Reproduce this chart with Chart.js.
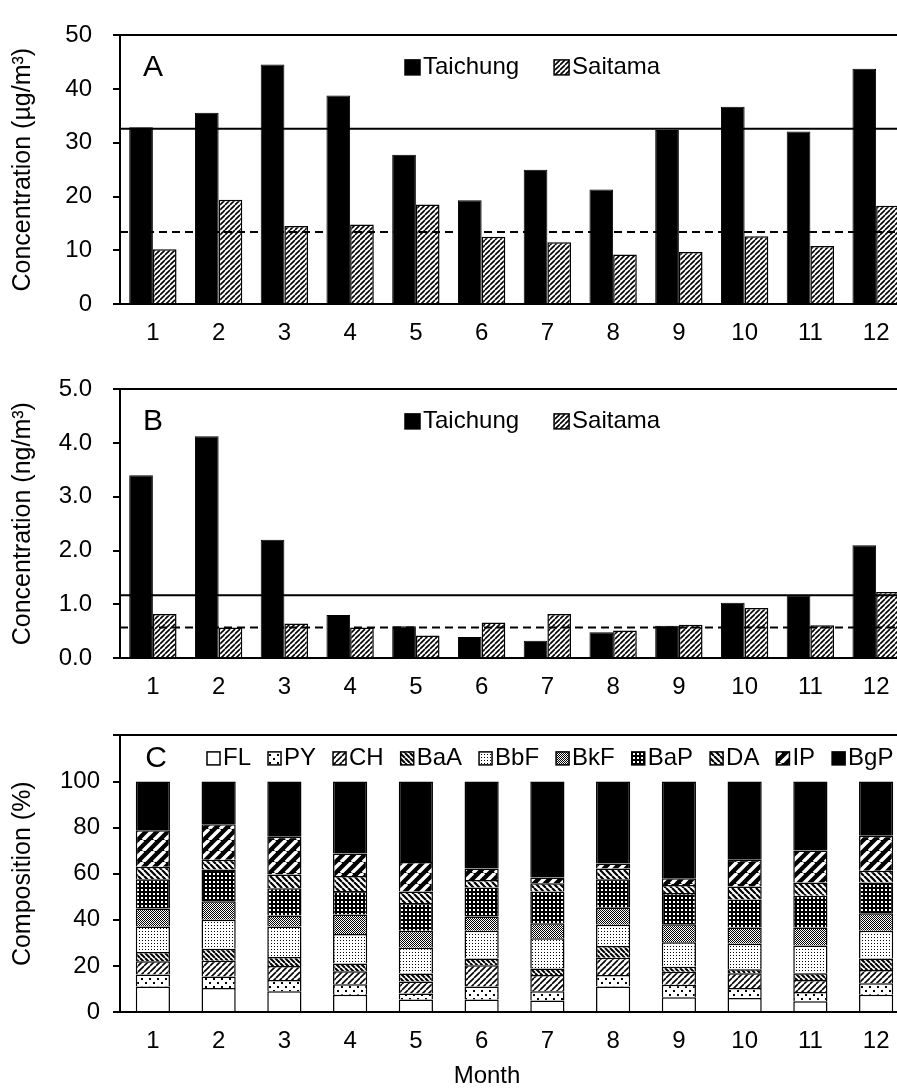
<!DOCTYPE html>
<html>
<head>
<meta charset="utf-8">
<script src="https://cdn.jsdelivr.net/npm/chart.js@4/dist/chart.umd.min.js"></script>
<style>
  html, body { margin: 0; padding: 0; background: #fff; overflow: hidden; width: 897px; height: 1092px; }
  canvas { position: absolute; left: 0; }
</style>
</head>
<body>
<canvas id="pm" width="909" height="350" style="top:0"></canvas>
<canvas id="pah" width="909" height="350" style="top:354px"></canvas>
<canvas id="comp" width="909" height="384" style="top:708px"></canvas>
<script>
// months on the x axis
const months = ["1", "2", "3", "4", "5", "6", "7", "8", "9", "10", "11", "12"];

// panel A, PM2.5 (µg/m3)
const pmTaichung = [32.9, 35.6, 44.6, 38.8, 27.8, 19.3, 25.0, 21.3, 32.4, 36.7, 32.1, 43.8];
const pmSaitama = [10.2, 19.4, 14.5, 14.8, 18.5, 12.5, 11.5, 9.2, 9.7, 12.6, 10.8, 18.3];
const pmLevels = [32.6, 13.4]; // solid = Taichung, dashed = Saitama

// panel B, total PAHs (ng/m3)
const pahTaichung = [3.40, 4.13, 2.20, 0.80, 0.59, 0.39, 0.32, 0.48, 0.60, 1.03, 1.17, 2.10];
const pahSaitama = [0.82, 0.57, 0.64, 0.57, 0.42, 0.66, 0.82, 0.51, 0.62, 0.93, 0.61, 1.23];
const pahLevels = [1.17, 0.57];

// panel C, composition (%)
const compounds = ["FL", "PY", "CH", "BaA", "BbF", "BkF", "BaP", "DA", "IP", "BgP"];
const FL  = [11.1, 10.4, 9.0, 7.5, 5.4, 5.4, 5.0, 11.1, 6.4, 6.1, 4.7, 7.5];
const PY  = [5.2, 5.0, 4.9, 4.5, 2.6, 5.7, 4.0, 5.0, 5.4, 4.3, 4.0, 5.0];
const CH  = [5.7, 6.8, 6.1, 5.7, 5.2, 9.2, 7.1, 7.4, 5.7, 6.4, 5.2, 5.7];
const BaA = [4.0, 5.2, 3.9, 3.3, 3.5, 2.9, 2.8, 5.1, 2.1, 1.7, 2.9, 5.0];
const BbF = [11.1, 12.6, 13.2, 12.8, 11.2, 12.1, 13.1, 9.2, 10.7, 11.1, 12.1, 12.1];
const BkF = [7.8, 8.1, 4.8, 8.5, 7.4, 6.1, 6.5, 7.4, 7.8, 7.1, 7.8, 7.5];
const BaP = [12.7, 13.7, 11.8, 10.2, 12.0, 12.6, 13.8, 12.4, 13.5, 12.1, 13.7, 13.4];
const DA  = [5.4, 4.3, 6.0, 6.5, 5.0, 3.3, 3.6, 4.7, 3.5, 5.6, 5.8, 5.1];
const IP  = [15.9, 15.3, 16.3, 9.8, 12.8, 5.0, 2.5, 2.1, 2.9, 11.7, 13.9, 15.2];
const BgP = [21.1, 18.6, 24.0, 31.2, 34.9, 37.7, 41.6, 35.6, 42.0, 33.9, 29.9, 23.5];
const compValues = [FL, PY, CH, BaA, BbF, BkF, BaP, DA, IP, BgP];

const FONT = '"Liberation Sans", Arial, sans-serif';
Chart.defaults.font.family = FONT;
Chart.defaults.font.size = 24;
Chart.defaults.color = "#000";

// fill patterns
function makePattern(size, bg, draw) {
  const c = document.createElement("canvas");
  c.width = c.height = size;
  const g = c.getContext("2d");
  g.fillStyle = bg;
  g.fillRect(0, 0, size, size);
  draw(g, size);
  return g.createPattern(c, "repeat");
}
function diag(dir, lw, color) {
  return (g, s) => {
    g.strokeStyle = color;
    g.lineWidth = lw;
    g.beginPath();
    for (let k = -s; k <= s; k += s) {
      if (dir > 0) { g.moveTo(k, s); g.lineTo(k + s, 0); }
      else { g.moveTo(k, 0); g.lineTo(k + s, s); }
    }
    g.stroke();
  };
}
function dots(list, color, w) {
  return (g) => {
    g.fillStyle = color;
    list.forEach(([x, y]) => g.fillRect(x, y, w, w));
  };
}

const hatch = makePattern(5, "#fff", diag(1, 1.6, "#000"));
const compFills = [
  "#fff",
  makePattern(8, "#fff", dots([[1, 2], [5, 6]], "#000", 2)),
  makePattern(6, "#fff", diag(1, 1.6, "#000")),
  makePattern(5, "#fff", diag(-1, 2, "#000")),
  makePattern(3, "#fff", dots([[1, 1]], "#000", 1)),
  makePattern(2, "#fff", dots([[0, 0], [1, 1]], "#000", 1)),
  makePattern(4, "#000", dots([[1, 1]], "#fff", 2)),
  makePattern(6, "#fff", diag(-1, 2.2, "#000")),
  makePattern(11, "#000", diag(1, 3.5, "#fff")),
  "#000"
];

// letter, legend, level lines and x title drawn inside the plot
const panelDecor = {
  id: "panelDecor",
  afterDatasetsDraw(chart, args, o) {
    const { ctx, chartArea: a } = chart;
    const y = chart.scales.y;
    ctx.save();
    (o.lines || []).forEach(l => {
      const py = y.getPixelForValue(l.value);
      ctx.beginPath();
      ctx.setLineDash(l.dash);
      ctx.lineWidth = 2;
      ctx.strokeStyle = "#000";
      ctx.moveTo(a.left, py);
      ctx.lineTo(a.right, py);
      ctx.stroke();
    });
    ctx.setLineDash([]);
    ctx.fillStyle = "#000";
    ctx.textBaseline = "middle";
    ctx.textAlign = "center";
    ctx.font = "30px " + FONT;
    ctx.fillText(o.letter, a.left + o.letterDx, a.top + o.dy);

    ctx.font = "24px " + FONT;
    ctx.textAlign = "left";
    let x = a.left + o.legendDx;
    const b = o.box;
    chart.data.datasets.forEach(ds => {
      const top = a.top + o.dy - b / 2;
      ctx.fillStyle = ds.backgroundColor;
      ctx.fillRect(x, top, b, b);
      ctx.lineWidth = 1.5;
      ctx.strokeStyle = "#000";
      ctx.strokeRect(x, top, b, b);
      ctx.fillStyle = "#000";
      ctx.fillText(ds.label, x + b + 3, a.top + o.dy);
      x += b + 3 + ctx.measureText(ds.label).width + o.gap;
    });

    if (o.xTitle) {
      ctx.textAlign = "center";
      ctx.fillText(o.xTitle, a.left + o.xTitleDx, a.bottom + o.xTitleDy);
    }
    ctx.restore();
  }
};

function yAxis(max, step, pad, title, fmt) {
  return {
    min: 0,
    max: max,
    stacked: true,
    ticks: { stepSize: step, padding: pad, callback: fmt },
    grid: {
      color: c => (c.tick && c.tick.value === max ? "#000" : "rgba(0,0,0,0)"),
      tickColor: "#000",
      tickLength: 7,
      lineWidth: 2
    },
    border: { color: "#000", width: 2 },
    title: { display: true, text: title, font: { size: 25 }, padding: { top: 8, bottom: 0 } },
    afterFit: s => { s.width = 120; }
  };
}
function xAxis(h) {
  return {
    stacked: true,
    grid: { display: false, drawTicks: false },
    border: { color: "#000", width: 2 },
    ticks: { padding: 15, maxRotation: 0, autoSkip: false },
    afterFit: s => { s.height = h; }
  };
}
const baseOpts = {
  responsive: false,
  animation: false,
  layout: { padding: { top: 23, left: 0, right: 0, bottom: 0 } },
  plugins: { legend: { display: false }, tooltip: { enabled: false } }
};

function pairChart(id, tai, sai, levels, max, step, title, fmt, letter) {
  return new Chart(document.getElementById(id), {
    type: "bar",
    data: {
      labels: months,
      datasets: [
        { label: "Taichung", data: tai, backgroundColor: "#000", borderColor: "#000", borderWidth: 1,
          barPercentage: 1, categoryPercentage: 0.72, stack: "t" },
        { label: "Saitama", data: sai, backgroundColor: hatch, borderColor: "#000", borderWidth: 1.5,
          barPercentage: 1, categoryPercentage: 0.72, stack: "s" }
      ]
    },
    options: Object.assign({}, baseOpts, {
      scales: { x: xAxis(46), y: yAxis(max, step, 21, title, fmt) },
      plugins: Object.assign({}, baseOpts.plugins, {
        panelDecor: {
          letter: letter, letterDx: 33, dy: 32, legendDx: 285, box: 15, gap: 35,
          lines: [{ value: levels[0], dash: [] }, { value: levels[1], dash: [8, 5] }]
        }
      })
    }),
    plugins: [panelDecor]
  });
}

pairChart("pm", pmTaichung, pmSaitama, pmLevels, 50, 10, "Concentration (µg/m³)", v => v, "A");
pairChart("pah", pahTaichung, pahSaitama, pahLevels, 5, 1, "Concentration (ng/m³)", v => v.toFixed(1), "B");

new Chart(document.getElementById("comp"), {
  type: "bar",
  data: {
    labels: months,
    datasets: compounds.map((name, i) => ({
      label: name,
      data: compValues[i],
      backgroundColor: compFills[i],
      borderColor: "#000",
      borderWidth: 1.5,
      barPercentage: 1,
      categoryPercentage: 0.52
    }))
  },
  options: Object.assign({}, baseOpts, {
    scales: {
      x: xAxis(80),
      y: yAxis(120, 20, 13, "Composition (%)", v => (v === 120 ? "" : v))
    },
    plugins: Object.assign({}, baseOpts.plugins, {
      panelDecor: {
        letter: "C", letterDx: 36, dy: 23, legendDx: 87, box: 13, gap: 17,
        xTitle: "Month", xTitleDx: 367, xTitleDy: 64
      }
    })
  }),
  plugins: [panelDecor]
});
</script>
</body>
</html>
